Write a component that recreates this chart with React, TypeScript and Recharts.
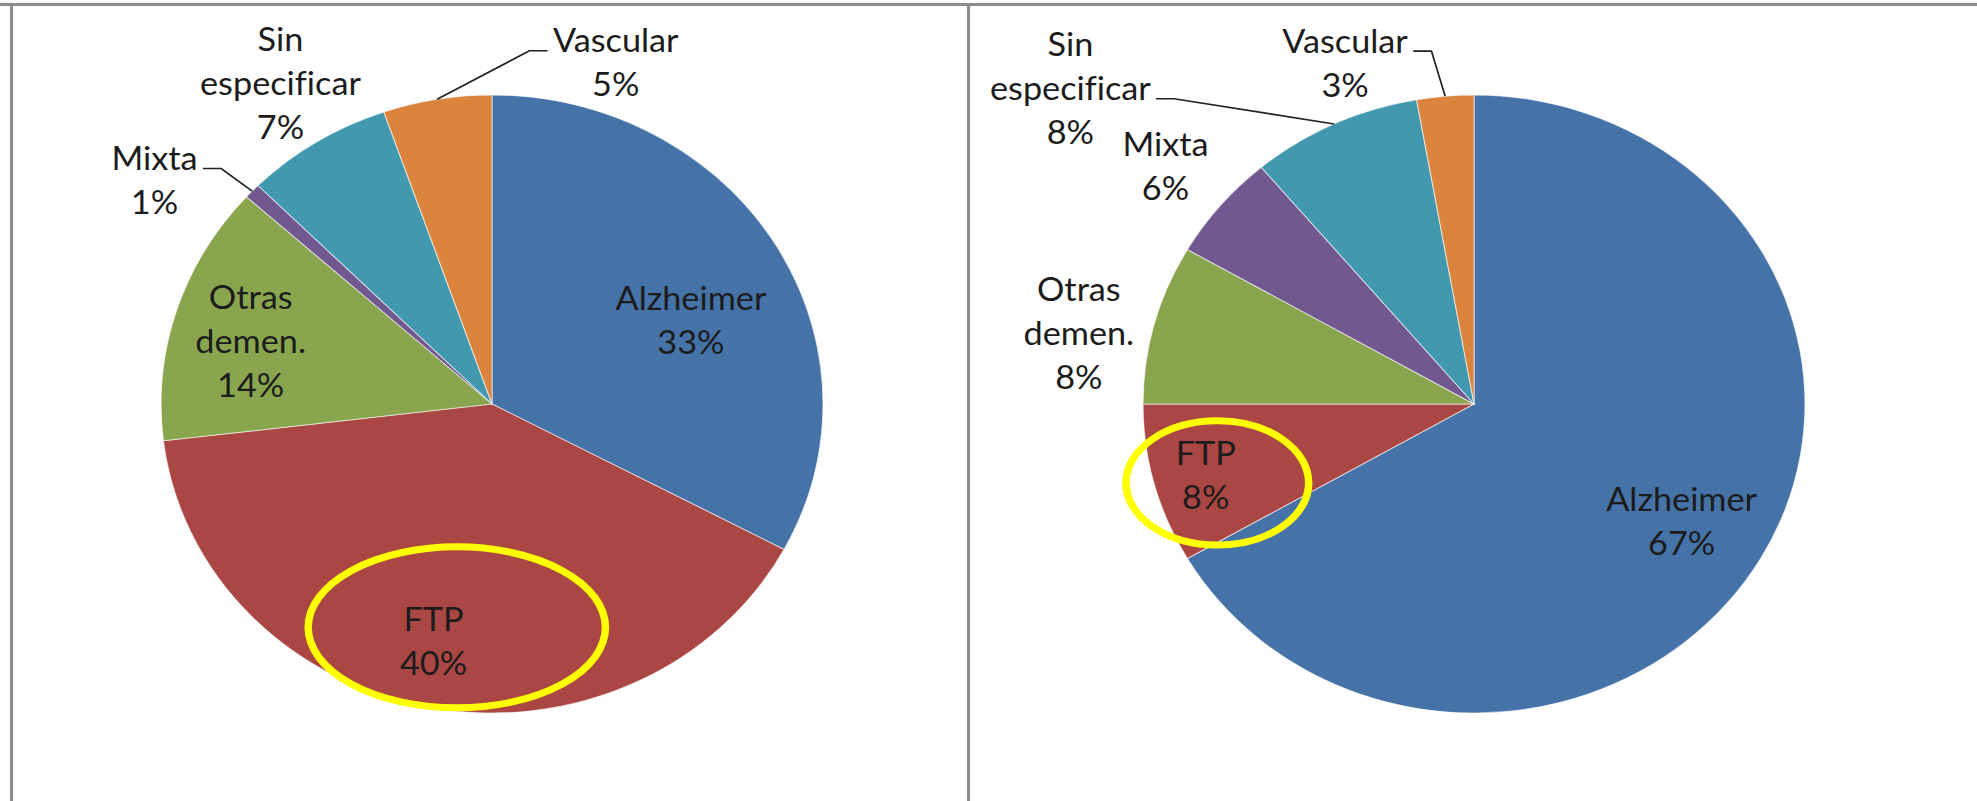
import React from 'react';
import { PieChart, Pie, Cell } from 'recharts';

const categories = ['Alzheimer', 'FTP', 'Otras demen.', 'Mixta', 'Sin especificar', 'Vascular'];
const leftValues = [32.8, 40.3, 13.6, 0.8, 7.2, 5.3];
const rightValues = [24, 3, 3, 2, 3, 1];
const sliceColors = ['#4572A7', '#AA4643', '#89A54E', '#71588F', '#4198AF', '#DB843D'];

// the original picture is stretched sideways, so the whole chart is drawn round and then widened
const STRETCH = 1.071;
const W = 1977;
const H = 801;
const FONT = 'Lato, "Noto Sans", sans-serif';
const FONT_SIZE = 32;
const LINE_H = 44;

interface LabelPlace {
  da: number; // degrees added to the slice middle
  f: number; // radius factor
  leader?: number; // which text line the leader line starts from
}

const leftPlaces: LabelPlace[] = [
  { da: -6.4, f: 0.661 },
  { da: -2.4, f: 0.784 },
  { da: 1.8, f: 0.758 },
  { da: 8.1, f: 1.252, leader: 0 },
  { da: -0.5, f: 1.222 },
  { da: -28.2, f: 1.169, leader: 0 },
];

const rightPlaces: LabelPlace[] = [
  { da: -1, f: 0.732 },
  { da: 0.7, f: 0.842 },
  { da: 4.1, f: 1.216 },
  { da: 0.4, f: 1.21 },
  { da: 25, f: 1.592, leader: 1 },
  { da: 14.4, f: 1.173, leader: 0 },
];

// yellow ring around the FTP label
const leftRing = { dx: 21.7, dy: -12.7, rx: 138.8, ry: 80.5 };
const rightRing = { dx: 10.8, dy: 8.5, rx: 85.3, ry: 62.1 };

const RAD = Math.PI / 180;

let ctx: CanvasRenderingContext2D | null = null;
const textWidth = (t: string) => {
  if (!ctx) {
    ctx = document.createElement('canvas').getContext('2d');
  }
  if (!ctx) return t.length * FONT_SIZE * 0.5;
  ctx.font = `${FONT_SIZE}px ${FONT}`;
  return ctx.measureText(t).width;
};

const makeLabel = (places: LabelPlace[], ring: typeof leftRing) => (props: any) => {
  const { cx, cy, midAngle, outerRadius, percent, index, name } = props;
  const p = places[index];
  const a = (midAngle + p.da) * RAD;
  const x = cx + outerRadius * p.f * Math.cos(a);
  const y = cy - outerRadius * p.f * Math.sin(a);
  const lines = [...String(name).split(' '), `${Math.round(percent * 100)}%`];
  const top = y - ((lines.length - 1) * LINE_H) / 2;

  let leader = null;
  if (p.leader !== undefined) {
    const m = midAngle * RAD;
    const ex = cx + outerRadius * Math.cos(m);
    const ey = cy - outerRadius * Math.sin(m);
    const sign = ex > x ? 1 : -1;
    const half = textWidth(lines[p.leader]) / 2;
    const sx = x + sign * (half + 5);
    const sy = top + p.leader * LINE_H + 11;
    leader = (
      <polyline
        points={`${sx},${sy} ${sx + sign * 17},${sy} ${ex},${ey}`}
        fill="none"
        stroke="#222"
        strokeWidth={1.6}
      />
    );
  }

  return (
    <g key={`lbl-${index}`}>
      {leader}
      {name === 'FTP' && (
        <ellipse
          cx={x + ring.dx}
          cy={y + ring.dy}
          rx={ring.rx}
          ry={ring.ry}
          fill="none"
          stroke="#FFFF00"
          strokeWidth={7}
        />
      )}
      <text
        x={x}
        y={top}
        textAnchor="middle"
        dominantBaseline="central"
        fontFamily={FONT}
        fontSize={FONT_SIZE}
        fill="#1c1c1c"
        style={{ fontVariantLigatures: 'none' }}
      >
        {lines.map((l, i) => (
          <tspan key={i} x={x} y={top + i * LINE_H}>
            {l}
          </tspan>
        ))}
      </text>
    </g>
  );
};

const leftData = categories.map((name, i) => ({ name, value: leftValues[i] }));
const rightData = categories.map((name, i) => ({ name, value: rightValues[i] }));

const frame = '#8c8c8c';

export default function App() {
  return (
    <div
      style={{
        position: 'absolute',
        left: 0,
        top: 0,
        width: W,
        height: H,
        overflow: 'hidden',
        background: '#fff',
      }}
    >
      <div style={{ position: 'absolute', left: 0, top: 3, width: W, height: 3, background: frame }} />
      <div style={{ position: 'absolute', left: 10, top: 3, width: 3, height: H, background: frame }} />
      <div style={{ position: 'absolute', left: 967, top: 3, width: 3, height: H, background: frame }} />
      <div
        style={{
          position: 'absolute',
          left: 0,
          top: 0,
          width: W / STRETCH,
          height: H,
          transform: `scaleX(${STRETCH})`,
          transformOrigin: '0 0',
        }}
      >
        <PieChart width={W / STRETCH} height={H} margin={{ top: 0, right: 0, bottom: 0, left: 0 }}>
          <Pie
            data={leftData}
            dataKey="value"
            nameKey="name"
            cx={459.4}
            cy={404}
            outerRadius={309}
            startAngle={90}
            endAngle={-270}
            stroke="rgba(255,255,255,0.6)"
            strokeWidth={1}
            label={makeLabel(leftPlaces, leftRing)}
            labelLine={false}
            isAnimationActive={false}
          >
            {leftData.map((d, i) => (
              <Cell key={d.name} fill={sliceColors[i]} />
            ))}
          </Pie>
          <Pie
            data={rightData}
            dataKey="value"
            nameKey="name"
            cx={1376.3}
            cy={404}
            outerRadius={309}
            startAngle={90}
            endAngle={-270}
            stroke="rgba(255,255,255,0.6)"
            strokeWidth={1}
            label={makeLabel(rightPlaces, rightRing)}
            labelLine={false}
            isAnimationActive={false}
          >
            {rightData.map((d, i) => (
              <Cell key={d.name} fill={sliceColors[i]} />
            ))}
          </Pie>
        </PieChart>
      </div>
    </div>
  );
}
